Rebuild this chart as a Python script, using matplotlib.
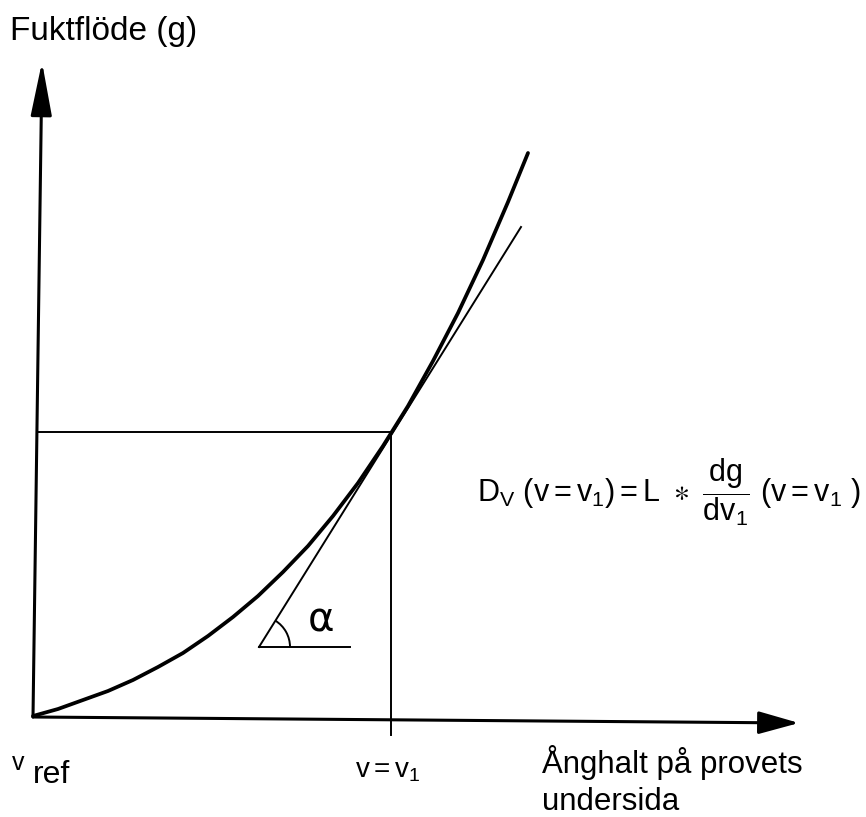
import numpy as np
import matplotlib
matplotlib.use("Agg")
import matplotlib.pyplot as plt
from matplotlib.patches import FancyArrowPatch, Arc

fam = 'Liberation Sans'
plt.rcParams['font.family'] = [fam, 'DejaVu Sans']
plt.rcParams['mathtext.fontset'] = 'custom'
plt.rcParams['mathtext.rm'] = fam
plt.rcParams['mathtext.it'] = fam

# curve g(v) (origin = v_ref, 1 unit = 1 px)
curve_x = [-2, 23, 48, 73, 98, 123, 148, 173, 198, 223, 248, 273, 298,
           323, 348, 373, 398, 423, 448, 473, 493]
curve_y = [1, 8, 17, 26, 37, 50, 64, 81, 100, 121, 145, 171, 201,
           234, 271, 311, 356, 404, 457, 515, 564]

# tangent at v = v1
tang_x = [224, 486]
tang_y = [70, 490]
v1 = 356
g1 = 285

# axes ends
yaxis_x = [-2, 7]
yaxis_y = [0, 655]
xaxis_x = [-2, 764]
xaxis_y = [0, -6]

fig = plt.figure(figsize=(8.66, 8.17), dpi=100)
ax = fig.add_axes([0, 0, 1, 1])
ax.set_xlim(-35, 831)
ax.set_ylim(-100, 717)
ax.axis('off')

k = 'black'
# axes with arrows
ax.add_patch(FancyArrowPatch((yaxis_x[0], yaxis_y[0]), (yaxis_x[1], yaxis_y[1]),
                             arrowstyle='-|>,head_length=33,head_width=6.5',
                             mutation_scale=1, lw=2.2, color=k, shrinkA=0, shrinkB=0))
ax.add_patch(FancyArrowPatch((xaxis_x[0], xaxis_y[0]), (xaxis_x[1], xaxis_y[1]),
                             arrowstyle='-|>,head_length=25,head_width=7',
                             mutation_scale=1, lw=2.2, color=k, shrinkA=0, shrinkB=0))

# helper lines
ax.plot([2, v1 + 1], [g1, g1], color=k, lw=1.4)
ax.plot([v1, v1], [g1, -18], color=k, lw=1.4)

# the curve and its tangent
ax.plot(curve_x, curve_y, color=k, lw=2.7, solid_joinstyle='round', solid_capstyle='round')
ax.plot(tang_x, tang_y, color=k, lw=1.4)

# angle alpha
ax.plot([tang_x[0], 315], [tang_y[0], tang_y[0]], color=k, lw=1.4)
ang = np.degrees(np.arctan2(tang_y[1] - tang_y[0], tang_x[1] - tang_x[0]))
ax.add_patch(Arc((tang_x[0], tang_y[0]), 62, 62, theta1=0, theta2=ang, color=k, lw=1.4))
ax.text(286, 96, 'α', fontsize=29, ha='center', va='center', family='DejaVu Sans')

# texts
ax.text(-25, 677, 'Fuktflöde (g)', fontsize=24, va='baseline', ha='left')
ax.text(-23, -53, 'v', fontsize=18, va='baseline', ha='left')
ax.text(-2, -66, 'ref', fontsize=23, va='baseline', ha='left')
ax.text(320, -60, r'$\mathregular{v = v_1}$', fontsize=20, va='baseline', ha='left')
ax.text(507, -56, 'Ånghalt på provets', fontsize=22.5, va='baseline', ha='left')
ax.text(507, -93, 'undersida', fontsize=22.5, va='baseline', ha='left')
ax.text(442, 215,
        r'$\mathregular{D_V\ (v = v_1) = L\ \ast\ \dfrac{dg}{dv_1}\ (v = v_1\ )}$',
        fontsize=22, va='baseline', ha='left')

fig.savefig('out.png', dpi=100, facecolor='white')
